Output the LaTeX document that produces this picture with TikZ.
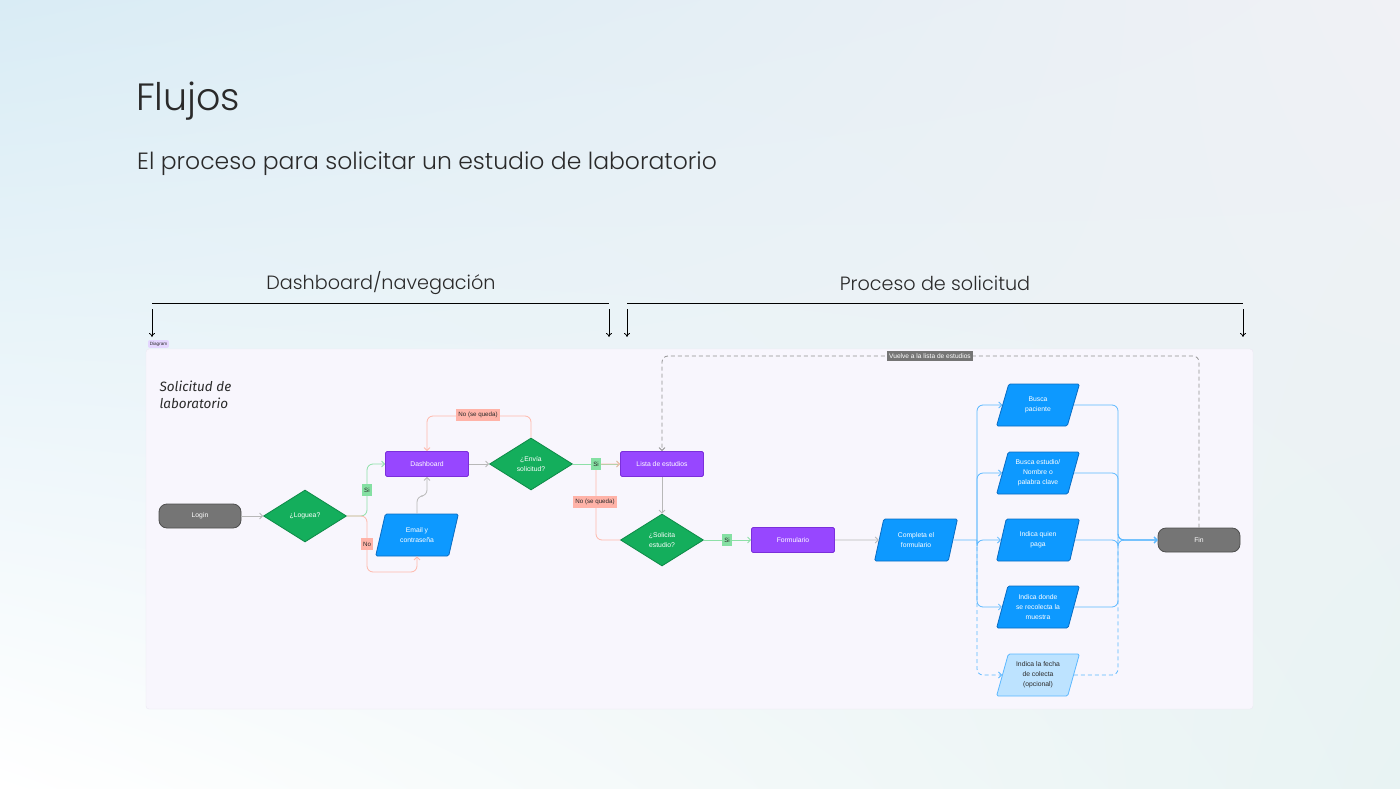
\documentclass[tikz,border=0pt]{standalone}
\usepackage{fontspec}
\setmainfont{Poppins}[UprightFont=* Light]
\newfontfamily\nodefont{Liberation Sans}
\newfontfamily\handfont{Fira Sans}
\usetikzlibrary{shapes.geometric,arrows.meta,positioning,shadings}

% Colores
\definecolor{morado}{HTML}{9747FF}
\definecolor{moradoborde}{HTML}{7B2FDB}
\definecolor{verde}{HTML}{14AE5C}
\definecolor{verdeborde}{HTML}{0D8A47}
\definecolor{azul}{HTML}{0D99FF}
\definecolor{azulborde}{HTML}{0A6CC2}
\definecolor{azulclaro}{HTML}{BDE3FF}
\definecolor{gris}{HTML}{757575}
\definecolor{grisborde}{HTML}{4F4F4F}
\definecolor{grislinea}{HTML}{B8B8B8}
\definecolor{verdelinea}{HTML}{8EE0A8}
\definecolor{verdeetiq}{HTML}{85E0A3}
\definecolor{salmonlinea}{HTML}{FFB8AB}
\definecolor{salmonetiq}{HTML}{FFB3A8}
\definecolor{azullinea}{HTML}{5CB8FF}
\definecolor{marco}{HTML}{F8F6FD}
\definecolor{marcoborde}{HTML}{ECE8F3}
\definecolor{etiqueta}{HTML}{E4D6FF}
\definecolor{texto}{HTML}{2A2A2A}
\definecolor{fondoA}{HTML}{D9ECF5}
\definecolor{fondoB}{HTML}{F0F1F5}
\definecolor{fondoC}{HTML}{E8F3F3}

\tikzset{
  base/.style={font=\nodefont\fontsize{6.8}{9.8}\selectfont, text=white, align=center, line width=0.8pt, inner sep=1pt},
  terminal/.style={base, rectangle, rounded corners=8pt, fill=gris, draw=grisborde, minimum width=82pt, minimum height=24pt},
  proceso/.style={base, rectangle, rounded corners=1.5pt, fill=morado, draw=moradoborde, minimum width=83pt, minimum height=25pt},
  decision/.style={base, diamond, fill=verde, draw=verdeborde, minimum width=83pt, minimum height=52pt, inner sep=0pt},
  entrada/.style={base, trapezium, trapezium left angle=72, trapezium right angle=108, trapezium stretches=true,
    fill=azul, draw=azulborde, minimum width=83pt, minimum height=42pt, rounded corners=1.5pt},
  opcional/.style={entrada, fill=azulclaro, draw=azullinea, text=texto},
  etiq/.style={font=\nodefont\fontsize{6.2}{7}\selectfont, text=texto, inner sep=2pt, minimum height=12pt},
  etiqsi/.style={etiq, fill=verdeetiq},
  etiqno/.style={etiq, fill=salmonetiq},
  flecha/.style={draw=grislinea, line width=0.8pt, rounded corners=6pt, -{Straight Barb[length=3pt,width=6pt]}},
  ramasi/.style={flecha, draw=verdelinea},
  ramano/.style={flecha, draw=salmonlinea},
  ramaazul/.style={flecha, draw=azullinea},
  volver/.style={flecha, draw=gris!80, dash pattern=on 4pt off 3pt},
  encabezado/.style={font=\fontsize{19.2}{22}\selectfont, text=texto},
  bajada/.style={line width=0.8pt, -{To[length=4pt,width=6pt]}}
}

\begin{document}
\begin{tikzpicture}[x=1pt,y=-1pt]
    \useasboundingbox (0,0) rectangle (1400,789);

    % Fondo
    \shade[upper left=fondoA, upper right=fondoB, lower left=white, lower right=fondoC] (0,0) rectangle (1400,789);

    % Títulos
    \node[anchor=base west, font=\fontsize{38}{40}\selectfont, text=texto, inner sep=0pt] (titulo) at (136,111) {Flujos};
    \node[anchor=base west, font=\fontsize{23.5}{26}\selectfont, text=texto, inner sep=0pt] (subtitulo) at (137,169)
      {El proceso para solicitar un estudio de laboratorio};

    % Secciones
    \coordinate (s1a) at (152,303);
    \coordinate (s1b) at (609,303);
    \coordinate (s2a) at (627,303);
    \coordinate (s2b) at (1243,303);
    \draw[line width=1pt] (s1a) -- (s1b);
    \draw[line width=1pt] (s2a) -- (s2b);
    \node[encabezado] (sec1) at (381,283) {Dashboard/navegación};
    \node[encabezado] (sec2) at (935,283) {Proceso de solicitud};
    \foreach \p in {s1a,s1b,s2a,s2b} {
        \draw[bajada] ([yshift=-6pt]\p) -- ([yshift=-34pt]\p);
    }

    % Marco del diagrama
    \draw[fill=marco, draw=marcoborde, rounded corners=3pt] (146,349) rectangle (1253,709);
    \node[fill=etiqueta, rounded corners=2pt, inner sep=1.8pt,
      font=\nodefont\fontsize{4.6}{5}\selectfont, text=texto] (tag) at (158.5,344) {Diagram};
    \node[anchor=north west, align=left, font=\handfont\itshape\fontsize{13.5}{17}\selectfont, text=texto] (nota) at (156,377)
      {Solicitud de\\laboratorio};

    % Nodos
    \node[terminal] (login) at (200,516) {Login};
    \node[decision] (loguea) at (305,516) {¿Loguea?};
    \node[proceso] (dash) at (427,464) {Dashboard};
    \node[entrada] (email) at (417,535) {Email y\\contraseña};
    \node[decision] (envia) at (531,464) {¿Envía\\solicitud?};
    \node[proceso] (lista) at (662,464) {Lista de estudios};
    \node[decision] (solicita) at (662,540) {¿Solicita\\estudio?};
    \node[proceso] (form) at (793,540) {Formulario};
    \node[entrada] (completa) at (916,540) {Completa el\\formulario};
    \node[entrada] (b1) at (1038,405) {Busca\\paciente};
    \node[entrada] (b2) at (1038,473) {Busca estudio/\\Nombre o\\palabra clave};
    \node[entrada] (b3) at (1038,540) {Indica quien\\paga};
    \node[entrada] (b4) at (1038,607) {Indica donde\\se recolecta la\\muestra};
    \node[opcional] (b5) at (1038,675) {Indica la fecha\\de colecta\\(opcional)};
    \node[terminal] (fin) at (1199,540) {Fin};

    % Puntos de quiebre
    \coordinate (c1) at (367,516);
    \coordinate (c2) at (417,572);
    \coordinate (c3) at (417,496);
    \coordinate (c4) at (531,416);
    \coordinate (c5) at (596,540);
    \coordinate (fl) at (977,540);
    \coordinate (fr) at (1118,540);
    \coordinate (c6) at (1199,356);

    % Conectores
    \draw[flecha] (login) -- (loguea);
    \draw[ramasi] (loguea.east) -- (c1) |- (dash.west);
    \draw[ramano] (loguea.east) -- (c1) |- (c2) -- (email.south);
    \draw[flecha] (email.north) -- (c3) -| (dash.south);
    \draw[flecha] (dash) -- (envia);
    \draw[ramano] (envia.north) -- (c4) -| (dash.north);
    \draw[ramasi] (envia.east) -- (lista.west);
    \draw[ramano] (solicita.west) -- (c5) |- (lista.west);
    \draw[flecha] (lista) -- (solicita);
    \draw[ramasi] (solicita) -- (form);
    \draw[flecha] (form) -- (completa);
    \draw[ramaazul, -] (completa.east) -- (fl);
    \foreach \n in {b1,b2,b3,b4} {
        \draw[ramaazul] (fl) |- (\n.west);
        \draw[ramaazul] (\n.east) -| (fr) -- (fin.west);
    }
    \draw[ramaazul, dash pattern=on 4pt off 3pt] (fl) |- (b5.west);
    \draw[ramaazul, dash pattern=on 4pt off 3pt, -] (b5.east) -| (fr);
    \draw[volver] (fin.north) -- (c6) -| (lista.north);

    % Etiquetas
    \node[etiqsi] (si1) at (367,490) {Si};
    \node[etiqno] (no1) at (367,544) {No};
    \node[etiqno] (no2) at (478,415) {No (se queda)};
    \node[etiqsi] (si2) at (596,464) {Si};
    \node[etiqno] (no3) at (595,502) {No (se queda)};
    \node[etiqsi] (si3) at (727,540) {Si};
    \node[fill=gris, text=white, inner sep=2.5pt, font=\nodefont\fontsize{6.6}{7}\selectfont] (vuelve) at (930,356)
      {Vuelve a la lista de estudios};

\end{tikzpicture}
\end{document}
